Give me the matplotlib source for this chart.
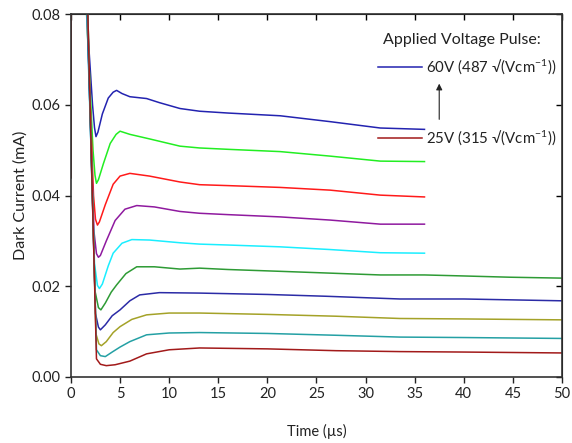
import matplotlib.pyplot as plt
import numpy as np

plt.rcParams["font.family"] = ["Lato", "DejaVu Sans"]
plt.rcParams["mathtext.fontset"] = "custom"
plt.rcParams["mathtext.rm"] = "Lato"
plt.rcParams["mathtext.default"] = "regular"

# dark current traces, one per applied pulse voltage (top = 60 V ... bottom = 25 V)
t_blue = [0, 0.05, 1.55, 2.2, 2.4, 2.55, 2.75, 3.2, 3.8, 4.3, 4.65, 5.2, 6.0, 7.7, 9.0, 11.1, 13.1, 16, 21.3, 26.4, 31.5, 36]
i_blue = [0.044, 0.12, 0.082, 0.060, 0.055, 0.053, 0.054, 0.058, 0.0615, 0.0628, 0.0632, 0.0625, 0.0618, 0.0614, 0.0605, 0.0592, 0.0586, 0.0582, 0.0576, 0.0563, 0.0549, 0.0546]

t_green = [0, 0.05, 1.55, 2.25, 2.45, 2.6, 2.8, 3.3, 4.0, 4.6, 5.0, 6.0, 8, 11.1, 13.1, 16, 21.3, 26.4, 31.5, 36]
i_green = [0.044, 0.12, 0.082, 0.050, 0.0445, 0.0427, 0.0435, 0.047, 0.0515, 0.0535, 0.0542, 0.0535, 0.0525, 0.0509, 0.0505, 0.0502, 0.0497, 0.0487, 0.0476, 0.0475]

t_red = [0, 0.05, 1.6, 2.3, 2.5, 2.7, 2.9, 3.5, 4.3, 5.0, 6.0, 8.0, 11.1, 13.1, 16, 21.3, 26.4, 31.5, 36]
i_red = [0.044, 0.12, 0.082, 0.040, 0.0348, 0.0335, 0.0342, 0.038, 0.0425, 0.0443, 0.0449, 0.0443, 0.0430, 0.0424, 0.0422, 0.0418, 0.0412, 0.0401, 0.0397]

t_purple = [0, 0.05, 1.6, 2.35, 2.6, 2.8, 3.0, 3.6, 4.5, 5.5, 6.7, 8.5, 11.1, 13.1, 16, 21.3, 26.4, 31.5, 36]
i_purple = [0.044, 0.12, 0.082, 0.032, 0.0272, 0.0264, 0.0268, 0.030, 0.0345, 0.0370, 0.0378, 0.0375, 0.0365, 0.0361, 0.0358, 0.0353, 0.0346, 0.0337, 0.0337]

t_cyan = [0, 0.05, 1.6, 2.4, 2.7, 2.9, 3.2, 3.8, 4.3, 5.2, 6.2, 8, 11.1, 13.1, 16, 21.3, 26.4, 31.5, 36]
i_cyan = [0.044, 0.12, 0.082, 0.025, 0.0202, 0.0195, 0.0205, 0.0245, 0.0273, 0.0295, 0.0303, 0.0302, 0.0296, 0.0293, 0.0291, 0.0287, 0.0281, 0.0274, 0.0273]

t_dgreen = [0, 0.05, 1.65, 2.45, 2.8, 3.05, 3.5, 4.1, 4.65, 5.6, 6.7, 8.5, 11.1, 13.1, 16, 21.3, 26.4, 31.5, 36, 39.6, 44.7, 50]
i_dgreen = [0.044, 0.12, 0.082, 0.019, 0.0153, 0.0148, 0.0163, 0.0187, 0.0203, 0.0228, 0.0243, 0.0243, 0.0238, 0.0240, 0.0237, 0.0233, 0.0229, 0.0225, 0.0225, 0.0223, 0.0220, 0.0218]

t_blue2 = [0, 0.05, 1.65, 2.5, 2.8, 3.0, 3.5, 4.2, 5.0, 6.0, 7.0, 9, 13.1, 20, 26, 33.5, 40, 45, 50]
i_blue2 = [0.044, 0.12, 0.082, 0.014, 0.0110, 0.0104, 0.0115, 0.0135, 0.0148, 0.0168, 0.0181, 0.0186, 0.0185, 0.0182, 0.0178, 0.0172, 0.0172, 0.0170, 0.0168]

t_olive = [0, 0.05, 1.7, 2.55, 2.85, 3.1, 3.6, 4.3, 5.0, 6.2, 7.7, 10, 13.1, 20, 27, 33.5, 40, 50]
i_olive = [0.044, 0.12, 0.082, 0.0095, 0.0073, 0.0069, 0.0078, 0.0098, 0.0111, 0.0127, 0.0137, 0.0141, 0.0141, 0.0138, 0.0134, 0.0129, 0.0128, 0.0126]

t_teal = [0, 0.05, 1.7, 2.6, 3.0, 3.5, 4.2, 5.0, 6.0, 7.7, 10, 13.1, 20, 27, 33.5, 40, 50]
i_teal = [0.044, 0.12, 0.082, 0.006, 0.0047, 0.0045, 0.0055, 0.0066, 0.0078, 0.0093, 0.0097, 0.0098, 0.0096, 0.0092, 0.0088, 0.0087, 0.0085]

t_dred = [0, 0.05, 1.7, 2.6, 3.0, 3.6, 4.5, 6.0, 7.7, 10, 13.1, 20, 27, 33.5, 40, 50]
i_dred = [0.044, 0.12, 0.082, 0.0040, 0.0028, 0.0025, 0.0027, 0.0035, 0.0051, 0.0060, 0.0064, 0.0062, 0.0058, 0.0056, 0.0055, 0.0053]

traces = [
    (t_blue, i_blue, "#2323b0"),
    (t_green, i_green, "#22ee22"),
    (t_red, i_red, "#ff1a1a"),
    (t_purple, i_purple, "#8f1a9f"),
    (t_cyan, i_cyan, "#1aeeff"),
    (t_dgreen, i_dgreen, "#2e9b35"),
    (t_blue2, i_blue2, "#2b2ba6"),
    (t_olive, i_olive, "#a4a228"),
    (t_teal, i_teal, "#24a0a4"),
    (t_dred, i_dred, "#a21a1a"),
]

legend_title = "Applied Voltage Pulse:"
legend_labels = ["60V (487 √(Vcm$^{-1}$))", "25V (315 √(Vcm$^{-1}$))"]
legend_y = [0.0684, 0.0527]

fig = plt.figure(figsize=(5.72, 4.43), dpi=100)
ax = fig.add_axes([0.124, 0.149, 0.8585, 0.819])

for t, i, c in traces:
    ax.plot(t, i, color=c, lw=1.1)

ax.set_xlim(0, 50)
ax.set_ylim(0, 0.08)
ax.set_xticks(np.arange(0, 51, 5))
ax.set_yticks(np.arange(0, 0.081, 0.02))
ax.yaxis.set_major_formatter(plt.FormatStrFormatter("%.2f"))
ax.tick_params(direction="out", length=4.5, width=1.0, labelsize=10.5,
               colors="#222222", pad=3)
for s in ax.spines.values():
    s.set_linewidth(1.2)
    s.set_color("#333333")

# ticks on top/right point inward
top = ax.secondary_xaxis("top")
top.set_xticks(np.arange(0, 51, 5))
top.tick_params(direction="in", length=4, width=1.0, labeltop=False)
right = ax.secondary_yaxis("right")
right.set_yticks(np.arange(0, 0.081, 0.02))
right.tick_params(direction="in", length=4, width=1.0, labelright=False)

ax.set_xlabel("Time (µs)", fontsize=10.5, labelpad=16, color="#222222")
ax.set_ylabel("Dark Current (mA)", fontsize=11.5, labelpad=3, color="#222222")

# hand-drawn legend
ax.text(31.8, 0.0743, legend_title, fontsize=11.5, va="center", color="#222222")
ax.plot([31.3, 35.7], [legend_y[0], legend_y[0]], color=traces[0][2], lw=1.1)
ax.text(36.2, legend_y[0], legend_labels[0], fontsize=10.8, va="center", color="#222222")
ax.plot([31.3, 35.7], [legend_y[1], legend_y[1]], color=traces[-1][2], lw=1.1)
ax.text(36.2, legend_y[1], legend_labels[1], fontsize=10.8, va="center", color="#222222")
ax.annotate("", xy=(37.5, 0.0653), xytext=(37.5, 0.0562),
            arrowprops=dict(arrowstyle="-|>", color="#222222", lw=0.8, mutation_scale=9))

fig.savefig("out.png", dpi=100)
